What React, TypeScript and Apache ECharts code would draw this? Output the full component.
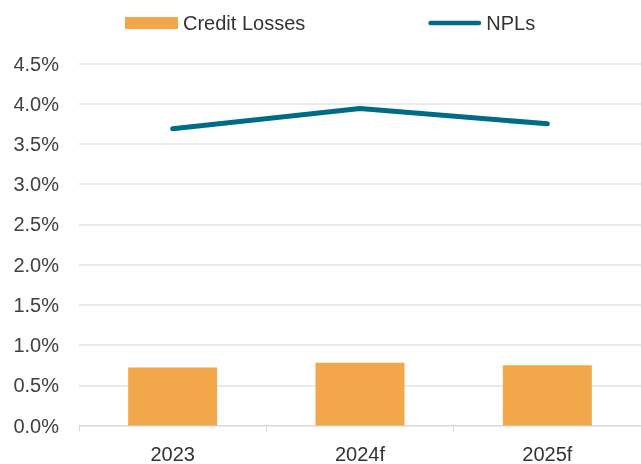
import React, { useEffect, useRef } from "react";
import * as echarts from "echarts";

const categories = ["2023", "2024f", "2025f"];
const creditLosses = [0.72, 0.78, 0.75];
const npls = [3.69, 3.94, 3.75];

export default function App() {
  const ref = useRef<HTMLDivElement>(null);
  useEffect(() => {
    const chart = echarts.init(ref.current!, null, { renderer: "svg" });
    const font = "Liberation Sans";
    chart.setOption({
      animation: false,
      textStyle: { fontFamily: font },
      legend: {
        left: 120,
        top: 8,
        itemGap: 123,
        itemWidth: 53,
        itemHeight: 12,
        symbolKeepAspect: true,
        textStyle: { fontSize: 20, color: "#333333", fontFamily: font },
        data: [
          { name: "Credit Losses", icon: "rect" },
          {
            name: "NPLs",
            icon: "path://M2.5,0L53.5,0A2.5,2.5,0,0,1,53.5,5L2.5,5A2.5,2.5,0,0,1,2.5,0Z",
          },
        ],
      },
      grid: { left: 79, right: -2, top: 63.5, bottom: 38.5, containLabel: false },
      xAxis: {
        type: "category",
        data: categories,
        axisLine: { lineStyle: { color: "#d9d9d9", width: 1 } },
        axisTick: { show: true, length: 6, lineStyle: { color: "#d9d9d9" } },
        axisLabel: { fontSize: 20, color: "#333333", margin: 18, fontFamily: font },
      },
      yAxis: {
        type: "value",
        min: 0,
        max: 4.5,
        interval: 0.5,
        axisLine: { show: false },
        axisTick: { show: false },
        splitLine: { lineStyle: { color: "#e3e3e3", width: 1.5 } },
        axisLabel: {
          fontSize: 20,
          color: "#404040",
          margin: 20,
          fontFamily: font,
          formatter: (v: number) => v.toFixed(1) + "%",
        },
      },
      series: [
        {
          name: "Credit Losses",
          type: "bar",
          data: creditLosses,
          barWidth: 89,
          itemStyle: { color: "#F2A74B" },
        },
        {
          name: "NPLs",
          type: "line",
          data: npls,
          symbol: "none",
          lineStyle: { color: "#006B87", width: 5, cap: "round" },
          itemStyle: { color: "#006B87" },
        },
      ],
    });
    return () => chart.dispose();
  }, []);
  return (
    <div
      ref={ref}
      style={{ position: "fixed", left: 0, top: 0, width: 641, height: 464 }}
    />
  );
}
